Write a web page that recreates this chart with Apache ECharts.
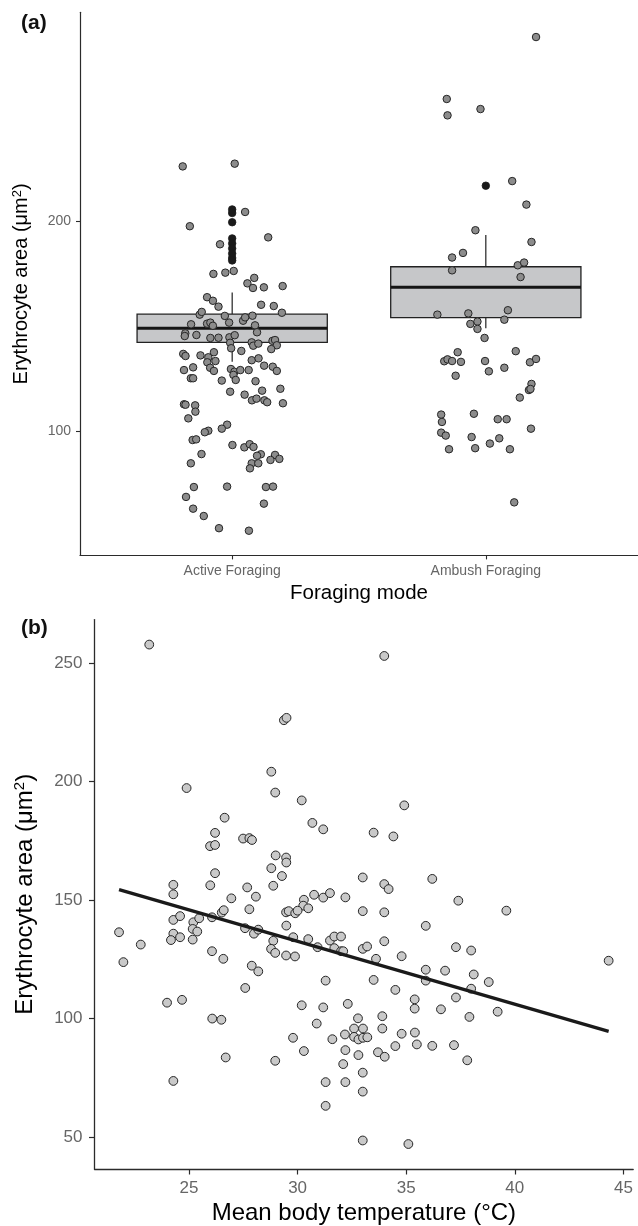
<!DOCTYPE html>
<html><head><meta charset="utf-8">
<script src="https://cdn.jsdelivr.net/npm/echarts@6/dist/echarts.min.js"></script>
<style>html,body{margin:0;padding:0;background:#fff}#c{width:638px;height:1226px}</style>
</head><body><div id="c"></div>
<script>
// ---------- Panel (a) data ----------
const modes = ['Active Foraging', 'Ambush Foraging'];
const modeTicks = [1, 2];
const areaTicksA = [100, 200];
// jittered [position, erythrocyte area]
const activePoints = [[0.805,226.0],[1.010,227.3],[1.051,204.3],[0.833,197.5],[1.142,192.2],[0.952,188.9],[0.926,174.8],[0.973,175.4],[1.006,176.2],[1.087,172.9],[1.060,170.3],[1.082,168.1],[1.125,168.4],[1.199,169.0],[0.901,163.7],[0.924,162.0],[0.946,159.2],[1.114,160.1],[1.164,159.5],[1.196,156.3],[0.872,155.4],[0.880,156.7],[0.971,154.8],[1.043,152.5],[1.051,154.1],[1.080,154.9],[0.838,150.8],[0.901,151.1],[0.914,151.6],[0.924,150.1],[0.988,151.6],[1.090,150.3],[0.815,146.5],[0.813,145.2],[0.859,145.7],[0.914,144.3],[0.946,144.4],[0.989,144.6],[1.010,145.6],[0.992,142.0],[1.098,147.0],[1.077,142.2],[1.083,140.6],[1.103,141.6],[1.159,142.9],[1.169,143.3],[1.176,140.8],[1.154,139.0],[0.996,139.4],[1.036,138.1],[0.807,136.7],[0.816,135.7],[0.875,136.0],[0.906,135.1],[0.928,137.5],[0.902,132.7],[0.934,133.3],[1.077,133.7],[1.104,134.6],[1.126,131.1],[1.160,130.6],[1.176,128.6],[0.810,129.0],[0.846,130.3],[0.913,130.1],[0.928,128.6],[0.995,129.5],[1.009,128.2],[1.032,129.0],[1.065,129.0],[1.005,126.7],[1.014,124.3],[0.837,125.1],[0.846,125.1],[0.959,124.0],[1.092,123.7],[0.992,118.7],[1.049,117.3],[1.118,119.2],[1.190,120.1],[1.078,114.6],[1.096,115.4],[1.127,114.6],[1.138,113.7],[1.200,113.2],[0.810,112.7],[0.816,112.5],[0.854,112.2],[0.855,109.2],[0.827,106.0],[0.980,103.0],[0.959,101.1],[0.906,100.1],[0.892,99.4],[0.844,95.7],[0.858,96.0],[1.001,93.3],[1.048,92.2],[1.069,93.7],[1.084,92.4],[0.879,89.0],[1.113,88.9],[1.098,88.2],[1.169,88.6],[1.151,86.2],[1.186,86.7],[0.837,84.6],[1.077,84.6],[1.103,84.6],[1.070,82.2],[0.849,73.3],[0.980,73.5],[1.133,73.3],[1.161,73.5],[0.818,68.6],[1.125,65.4],[0.846,63.0],[0.888,59.5],[0.948,53.7],[1.066,52.5]];
const ambushPoints = [[2.198,287.6],[1.846,258.1],[1.849,250.3],[1.979,253.3],[2.104,219.0],[2.160,207.8],[1.959,195.6],[2.180,190.0],[1.867,182.6],[1.910,184.8],[2.126,178.9],[2.151,180.2],[1.867,176.5],[2.137,173.3],[1.809,155.4],[1.931,156.0],[2.087,157.5],[2.073,153.0],[1.939,151.0],[1.967,152.1],[1.967,148.6],[1.995,144.3],[1.889,137.5],[1.836,133.2],[1.849,134.1],[1.867,133.3],[1.902,132.9],[1.997,133.3],[2.118,138.0],[2.174,132.7],[2.198,134.3],[2.012,128.4],[2.073,130.1],[1.881,126.3],[2.180,122.4],[2.170,119.5],[2.176,120.0],[2.134,115.9],[1.824,107.8],[1.827,104.3],[1.953,108.2],[2.047,105.6],[2.082,105.6],[2.178,101.1],[1.824,99.2],[1.842,97.8],[1.944,97.1],[2.053,96.5],[2.016,94.0],[1.855,91.3],[1.958,91.8],[2.095,91.3],[2.112,66.0]];
// boxplot statistics per mode
const boxLow    = [133.0, 148.9];
const boxQ1     = [142.2, 154.0];
const boxMedian = [148.9, 168.4];
const boxQ3     = [155.6, 178.2];
const boxHigh   = [166.0, 193.3];
const activeOutliers = [205.5, 203.8, 199.4, 191.7, 189.3, 186.9, 184.5, 182.4, 181.2];
const ambushOutliers = [216.8];

// ---------- Panel (b) data ----------
const tempTicks = [25, 30, 35, 40, 45];
const areaTicksB = [50, 100, 150, 200, 250];
// [mean body temperature, erythrocyte area]
const tempPoints = [[23.17,257.7],[29.37,225.8],[29.49,226.8],[28.79,204.1],[28.97,195.3],[30.19,192.0],[24.89,197.2],[30.68,182.5],[26.64,184.7],[26.20,178.3],[25.97,172.7],[26.20,173.2],[27.49,175.9],[27.78,176.1],[27.90,175.3],[26.20,161.3],[28.99,168.8],[29.47,167.9],[29.48,165.8],[28.79,163.4],[29.28,160.1],[28.88,156.0],[25.98,156.2],[27.68,155.3],[28.08,151.4],[24.28,156.4],[24.28,152.4],[26.95,150.7],[27.78,146.1],[30.29,150.1],[30.76,152.2],[30.26,147.6],[30.49,146.5],[29.47,144.8],[29.59,145.3],[29.89,144.4],[30.00,145.5],[26.51,144.7],[26.60,145.7],
[21.78,136.4],[21.98,123.8],[22.78,131.2],[24.28,141.6],[24.59,143.2],[24.28,135.8],[24.17,133.1],[24.59,134.3],[25.20,140.6],[25.47,142.3],[25.17,137.8],[25.38,136.7],[25.17,133.3],[26.06,142.7],[27.58,138.1],[27.99,135.8],[28.19,137.5],[28.88,132.8],[28.78,129.4],[28.97,127.7],[29.48,139.2],[29.80,134.3],[30.49,133.5],[30.92,130.1],[29.47,126.6],[29.88,126.2],[26.06,128.4],[26.58,125.2],[27.89,122.3],[28.19,119.9],[27.59,112.9],[23.99,106.7],[24.68,107.9],[26.07,100.0],[26.49,99.5],[30.19,105.6],[30.88,97.9],[29.79,91.9],[30.29,86.3],[26.69,83.6],[28.97,82.2],[24.28,73.7],
[31.49,132.9],[31.69,134.6],[32.00,134.6],[31.69,129.7],[32.00,128.4],[32.10,128.4],[33.00,129.4],[33.20,130.4],[33.99,132.6],[33.61,125.2],[35.90,139.1],[37.29,130.1],[37.99,128.7],[34.79,126.3],[35.90,120.6],[35.90,116.0],[36.79,120.2],[38.11,118.6],[38.80,115.4],[37.99,112.6],[37.29,108.9],[39.21,102.9],[44.32,124.4],[31.29,116.0],[33.50,116.3],[34.50,112.1],[35.39,108.1],[35.39,104.2],[36.60,103.9],[37.91,100.7],[31.18,104.7],[32.31,106.2],[32.78,100.1],[33.90,101.0],[33.90,95.8],[32.60,95.8],[33.01,95.8],[32.18,93.3],[32.60,92.3],[32.80,91.2],[33.01,91.9],[33.21,92.1],[31.60,91.3],[35.40,94.1],[34.79,93.6],[34.50,88.4],[35.49,89.1],[36.20,88.5],[37.20,88.8],[37.81,82.4],[33.70,85.8],[34.01,83.9],[32.20,86.7],[32.80,84.6],[32.10,80.8],[33.00,77.2],[31.29,73.2],[32.20,73.2],[33.00,69.2],[31.29,63.2],[33.00,48.6],[35.10,47.1],
[33.99,252.9],[34.91,189.9],[31.18,179.8],[33.50,178.4],[34.41,176.8],[33.00,159.5],[36.20,158.9],[33.99,156.7],[34.19,154.6],[37.40,149.7],[31.18,151.0],[31.49,152.9],[32.20,151.1],[33.00,145.3],[33.99,144.8],[39.61,145.5]];
const regressionLine = [[21.78,154.4],[44.32,94.6]];

// ---------- chart ----------
const FONT = '"Liberation Sans", Arial, Helvetica, sans-serif';
const AXC = '#2b2b2b';
const LABC = '#666666';
const chart = echarts.init(document.getElementById('c'));

const boxData = modeTicks.map((m, i) => [m, boxLow[i], boxQ1[i], boxMedian[i], boxQ3[i], boxHigh[i]]);
const outlierData = activeOutliers.map(v => [1, v]).concat(ambushOutliers.map(v => [2, v]));

function yName(size, supSize, supPad) {
  return {
    fontFamily: FONT, fontSize: size, color: '#000',
    rich: { sup: { fontFamily: FONT, fontSize: supSize, color: '#000', verticalAlign: 'top', padding: [0, 0, supPad, 0] } }
  };
}

chart.setOption({
  animation: false,
  backgroundColor: '#fff',
  textStyle: { fontFamily: FONT },
  grid: [
    { left: 80, top: 12.35, width: 563.2, height: 543.05 },
    { left: 94.5, top: 619.6, width: 538.7, height: 551.4 }
  ],
  xAxis: [
    {
      type: 'value', gridIndex: 0, min: 0.4, max: 2.6,
      name: 'Foraging mode', nameLocation: 'middle', nameGap: 27,
      nameTextStyle: { fontFamily: FONT, fontSize: 20.5, color: '#000' },
      axisLine: { show: true, lineStyle: { color: AXC, width: 1.2 } },
      axisTick: { show: true, length: 4, customValues: modeTicks, lineStyle: { color: AXC, width: 1.1 } },
      axisLabel: { customValues: modeTicks, formatter: v => modes[Math.round(v) - 1], margin: 9, fontFamily: FONT, fontSize: 14, color: LABC },
      splitLine: { show: false }
    },
    {
      type: 'value', gridIndex: 1, min: 20.65, max: 45.45,
      name: 'Mean body temperature (°C)', nameLocation: 'middle', nameGap: 32,
      nameTextStyle: { fontFamily: FONT, fontSize: 24, color: '#000' },
      axisLine: { show: true, lineStyle: { color: AXC, width: 1.3 } },
      axisTick: { show: true, length: 5.5, customValues: tempTicks, lineStyle: { color: AXC, width: 1.2 } },
      axisLabel: { customValues: tempTicks, margin: 11, fontFamily: FONT, fontSize: 17, color: LABC },
      splitLine: { show: false }
    }
  ],
  yAxis: [
    {
      type: 'value', gridIndex: 0, min: 40.745, max: 299.355,
      name: 'Erythrocyte area (μm{sup|2})', nameLocation: 'middle', nameGap: 48,
      nameTextStyle: yName(20, 13, 8),
      axisLine: { show: true, lineStyle: { color: AXC, width: 1.2 } },
      axisTick: { show: true, length: 4, customValues: areaTicksA, lineStyle: { color: AXC, width: 1.1 } },
      axisLabel: { customValues: areaTicksA, margin: 9, fontFamily: FONT, fontSize: 14, color: LABC },
      splitLine: { show: false }
    },
    {
      type: 'value', gridIndex: 1, min: 36.57, max: 268.23,
      name: 'Erythrocyte area (μm{sup|2})', nameLocation: 'middle', nameGap: 57,
      nameTextStyle: yName(24, 15, 10),
      axisLine: { show: true, lineStyle: { color: AXC, width: 1.3 } },
      axisTick: { show: true, length: 5.5, customValues: areaTicksB, lineStyle: { color: AXC, width: 1.2 } },
      axisLabel: { customValues: areaTicksB, margin: 12, fontFamily: FONT, fontSize: 17, color: LABC },
      splitLine: { show: false }
    }
  ],
  graphic: [
    { type: 'text', left: 21, top: 13, style: { text: '(a)', fontFamily: FONT, fontSize: 21, fontWeight: 'bold', fill: '#111' } },
    { type: 'text', left: 21, top: 618, style: { text: '(b)', fontFamily: FONT, fontSize: 21, fontWeight: 'bold', fill: '#111' } }
  ],
  series: [
    {
      type: 'custom', xAxisIndex: 0, yAxisIndex: 0, z: 2, silent: true,
      data: boxData,
      renderItem: function (params, api) {
        const x = api.value(0);
        const lo = api.coord([x, api.value(1)]);
        const q1 = api.coord([x, api.value(2)]);
        const md = api.coord([x, api.value(3)]);
        const q3 = api.coord([x, api.value(4)]);
        const hi = api.coord([x, api.value(5)]);
        const hw = api.size([0.75, 0])[0] / 2;
        return {
          type: 'group', children: [
            { type: 'line', shape: { x1: lo[0], y1: lo[1], x2: q1[0], y2: q1[1] }, style: { stroke: '#222', lineWidth: 1.2 } },
            { type: 'line', shape: { x1: q3[0], y1: q3[1], x2: hi[0], y2: hi[1] }, style: { stroke: '#222', lineWidth: 1.2 } },
            { type: 'rect', shape: { x: q3[0] - hw, y: q3[1], width: 2 * hw, height: q1[1] - q3[1] }, style: { fill: '#c6c7c9', stroke: '#222', lineWidth: 1.3 } },
            { type: 'line', shape: { x1: md[0] - hw, y1: md[1], x2: md[0] + hw, y2: md[1] }, style: { stroke: '#151515', lineWidth: 3 } }
          ]
        };
      }
    },
    {
      type: 'scatter', xAxisIndex: 0, yAxisIndex: 0, z: 3, silent: true,
      data: outlierData, symbolSize: 7.5,
      itemStyle: { color: '#1a1a1a', borderColor: '#1a1a1a', borderWidth: 0.8, opacity: 1 }
    },
    {
      type: 'scatter', xAxisIndex: 0, yAxisIndex: 0, z: 4, silent: true,
      data: activePoints.concat(ambushPoints), symbolSize: 7.5,
      itemStyle: { color: '#8c8c8c', borderColor: '#262626', borderWidth: 1, opacity: 1 }
    },
    {
      type: 'scatter', xAxisIndex: 1, yAxisIndex: 1, z: 3, silent: true,
      data: tempPoints, symbolSize: 8.8,
      itemStyle: { color: '#c9c9c9', borderColor: '#262626', borderWidth: 1, opacity: 1 }
    },
    {
      type: 'line', xAxisIndex: 1, yAxisIndex: 1, z: 5, silent: true,
      data: regressionLine, symbol: 'none',
      lineStyle: { color: '#1a1a1a', width: 3.3 }
    }
  ]
});
</script>
</body></html>
